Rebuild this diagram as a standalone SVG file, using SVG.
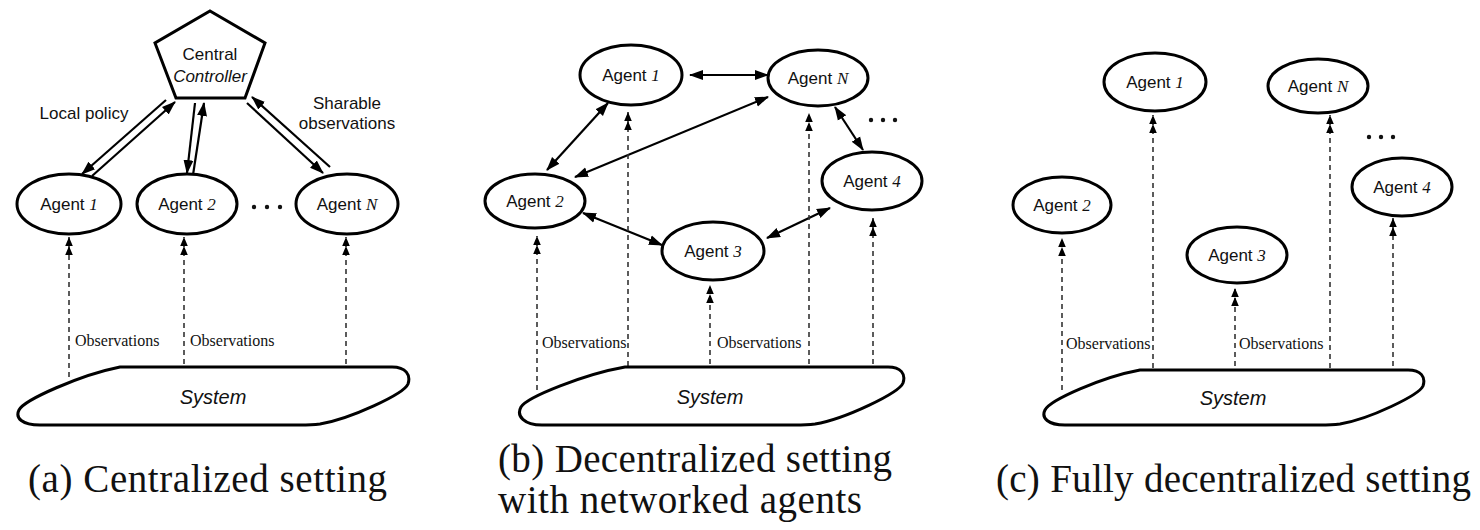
<svg xmlns="http://www.w3.org/2000/svg" width="1480" height="530" viewBox="0 0 1480 530">
<defs>
<style>
.node ellipse, .node polygon, .sys path {fill:#fff; stroke:#000; stroke-width:3}
.lbl {font-family:"Liberation Sans",Arial,sans-serif; font-size:17px; fill:#111; text-anchor:middle}
.num {font-family:"Liberation Serif","Times New Roman",serif; font-style:italic}
.it {font-style:italic}
.obs {font-family:"Liberation Serif","Times New Roman",serif; font-size:16px; fill:#111}
.dash {stroke:#333; stroke-width:1.6; stroke-dasharray:5 4; fill:none}
.sol {stroke:#000; stroke-width:2.2; fill:none}
.cap {font-family:"Liberation Serif","Times New Roman",serif; font-size:39px; fill:#111}
.dots circle {fill:#111}
</style>
<marker id="arr" markerUnits="userSpaceOnUse" viewBox="0 -6 14 12" refX="13" refY="0" markerWidth="14" markerHeight="12" orient="auto-start-reverse">
<path d="M0,-5 L14,0 L0,5 Z" fill="#000"/>
</marker>
<marker id="dbl" markerUnits="userSpaceOnUse" viewBox="0 -5 20 10" refX="18" refY="0" markerWidth="20" markerHeight="10" orient="auto">
<path d="M0,-3.8 L9,0 L0,3.8 Z M9,-3.8 L18,0 L9,3.8 Z" fill="#000"/>
</marker>
</defs>

<!-- ===== Panel (a) ===== -->
<g id="a-connectors">
<line class="sol" x1="166" y1="100" x2="82" y2="174" marker-end="url(#arr)"/>
<line class="sol" x1="92" y1="176" x2="175" y2="102" marker-end="url(#arr)"/>
<line class="sol" x1="195" y1="103" x2="187" y2="173" marker-end="url(#arr)"/>
<line class="sol" x1="193" y1="175" x2="204" y2="103" marker-end="url(#arr)"/>
<line class="sol" x1="247" y1="103" x2="323" y2="173" marker-end="url(#arr)"/>
<line class="sol" x1="330" y1="167" x2="252" y2="97" marker-end="url(#arr)"/>
<line class="dash" x1="69" y1="377" x2="69" y2="237" marker-end="url(#dbl)"/>
<line class="dash" x1="184" y1="364" x2="184" y2="237" marker-end="url(#dbl)"/>
<line class="dash" x1="346" y1="364" x2="346" y2="237" marker-end="url(#dbl)"/>
</g>
<text class="lbl" x="84" y="119">Local policy</text>
<text class="lbl" x="347" y="109">Sharable</text>
<text class="lbl" x="347" y="129">observations</text>
<text class="obs" x="75" y="346">Observations</text>
<text class="obs" x="190" y="346">Observations</text>

<g id="a-controller" class="node">
<polygon points="210,11 265,43 245,98 176,98 155,43"/>
<text class="lbl" x="210" y="60">Central</text>
<text class="lbl it" x="210" y="82">Controller</text>
</g>
<g id="a-agent1" class="node">
<ellipse cx="69" cy="204" rx="52" ry="30"/>
<text class="lbl" x="69" y="210">Agent <tspan class="num">1</tspan></text>
</g>
<g id="a-agent2" class="node">
<ellipse cx="187" cy="204" rx="50" ry="30"/>
<text class="lbl" x="187" y="210">Agent <tspan class="num">2</tspan></text>
</g>
<g id="a-agentN" class="node">
<ellipse cx="347" cy="204" rx="51" ry="30"/>
<text class="lbl" x="347" y="210">Agent <tspan class="num">N</tspan></text>
</g>
<g id="a-dots" class="dots">
<circle cx="254" cy="207" r="2.2"/><circle cx="267" cy="207" r="2.2"/><circle cx="280" cy="207" r="2.2"/>
</g>
<g id="a-system" class="sys">
<path d="M 120,367 L 392,367 C 406,367 411,375 408,384 C 404,394 350,419 320,424 Q 312,425 300,425 L 40,425 C 22,425 15,418 19,410 C 24,400 80,375 120,367 Z"/>
<text class="lbl it" x="213" y="404" style="font-size:20px">System</text>
</g>

<!-- ===== Panel (b) ===== -->
<g id="b-connectors">
<line class="sol" x1="690" y1="75" x2="768" y2="75" marker-start="url(#arr)" marker-end="url(#arr)"/>
<line class="sol" x1="608" y1="103" x2="547" y2="170" marker-start="url(#arr)" marker-end="url(#arr)"/>
<line class="sol" x1="768" y1="97" x2="575" y2="177" marker-start="url(#arr)" marker-end="url(#arr)"/>
<line class="sol" x1="835" y1="107" x2="863" y2="150" marker-start="url(#arr)" marker-end="url(#arr)"/>
<line class="sol" x1="583" y1="213" x2="662" y2="245" marker-start="url(#arr)" marker-end="url(#arr)"/>
<line class="sol" x1="767" y1="238" x2="830" y2="208" marker-start="url(#arr)" marker-end="url(#arr)"/>
<line class="dash" x1="537" y1="390" x2="537" y2="236" marker-end="url(#dbl)"/>
<line class="dash" x1="628" y1="366" x2="628" y2="112" marker-end="url(#dbl)"/>
<line class="dash" x1="710" y1="364" x2="710" y2="285" marker-end="url(#dbl)"/>
<line class="dash" x1="809" y1="364" x2="809" y2="113" marker-end="url(#dbl)"/>
<line class="dash" x1="873" y1="364" x2="873" y2="218" marker-end="url(#dbl)"/>
</g>
<text class="obs" x="542" y="348">Observations</text>
<text class="obs" x="717" y="348">Observations</text>

<g id="b-agent1" class="node">
<ellipse cx="631" cy="75" rx="51" ry="30"/>
<text class="lbl" x="631" y="81">Agent <tspan class="num">1</tspan></text>
</g>
<g id="b-agentN" class="node">
<ellipse cx="818" cy="78" rx="50" ry="28"/>
<text class="lbl" x="818" y="84">Agent <tspan class="num">N</tspan></text>
</g>
<g id="b-agent2" class="node">
<ellipse cx="535" cy="201" rx="50" ry="27"/>
<text class="lbl" x="535" y="207">Agent <tspan class="num">2</tspan></text>
</g>
<g id="b-agent4" class="node">
<ellipse cx="872" cy="181" rx="50" ry="29"/>
<text class="lbl" x="872" y="187">Agent <tspan class="num">4</tspan></text>
</g>
<g id="b-agent3" class="node">
<ellipse cx="713" cy="251" rx="51" ry="29"/>
<text class="lbl" x="713" y="257">Agent <tspan class="num">3</tspan></text>
</g>
<g id="b-dots" class="dots">
<circle cx="871" cy="120" r="2.2"/><circle cx="883" cy="120" r="2.2"/><circle cx="895" cy="120" r="2.2"/>
</g>
<g id="b-system" class="sys">
<path d="M 625,367 L 888,367 C 901,367 906,374 903,383 C 899,393 845,419 815,424 Q 807,425 795,425 L 542,425 C 524,425 516,416 521,407 C 527,397 585,374 625,367 Z"/>
<text class="lbl it" x="710" y="404" style="font-size:20px">System</text>
</g>

<!-- ===== Panel (c) ===== -->
<g id="c-connectors">
<line class="dash" x1="1062" y1="390" x2="1062" y2="238" marker-end="url(#dbl)"/>
<line class="dash" x1="1153" y1="368" x2="1153" y2="115" marker-end="url(#dbl)"/>
<line class="dash" x1="1235" y1="366" x2="1235" y2="288" marker-end="url(#dbl)"/>
<line class="dash" x1="1330" y1="368" x2="1330" y2="115" marker-end="url(#dbl)"/>
<line class="dash" x1="1393" y1="366" x2="1393" y2="218" marker-end="url(#dbl)"/>
</g>
<text class="obs" x="1066" y="349">Observations</text>
<text class="obs" x="1239" y="349">Observations</text>

<g id="c-agent1" class="node">
<ellipse cx="1155" cy="82" rx="51" ry="29"/>
<text class="lbl" x="1155" y="88">Agent <tspan class="num">1</tspan></text>
</g>
<g id="c-agentN" class="node">
<ellipse cx="1318" cy="86" rx="50" ry="27"/>
<text class="lbl" x="1318" y="92">Agent <tspan class="num">N</tspan></text>
</g>
<g id="c-agent2" class="node">
<ellipse cx="1062" cy="205" rx="49" ry="28"/>
<text class="lbl" x="1062" y="211">Agent <tspan class="num">2</tspan></text>
</g>
<g id="c-agent4" class="node">
<ellipse cx="1402" cy="187" rx="50" ry="29"/>
<text class="lbl" x="1402" y="193">Agent <tspan class="num">4</tspan></text>
</g>
<g id="c-agent3" class="node">
<ellipse cx="1237" cy="255" rx="50" ry="28"/>
<text class="lbl" x="1237" y="261">Agent <tspan class="num">3</tspan></text>
</g>
<g id="c-dots" class="dots">
<circle cx="1369" cy="137" r="2.2"/><circle cx="1381" cy="137" r="2.2"/><circle cx="1393" cy="137" r="2.2"/>
</g>
<g id="c-system" class="sys">
<path d="M 1140,370 L 1408,370 C 1421,370 1426,377 1423,386 C 1419,395 1370,419 1340,424 Q 1332,425 1320,425 L 1065,425 C 1048,425 1041,418 1045,410 C 1050,400 1102,377 1140,370 Z"/>
<text class="lbl it" x="1233" y="405" style="font-size:20px">System</text>
</g>

<!-- ===== Captions ===== -->
<text class="cap" x="28" y="492" textLength="359">(a) Centralized setting</text>
<text class="cap" x="498" y="472" textLength="394">(b) Decentralized setting</text>
<text class="cap" x="498" y="513" textLength="364">with networked agents</text>
<text class="cap" x="996" y="492" textLength="475">(c) Fully decentralized setting</text>
</svg>
